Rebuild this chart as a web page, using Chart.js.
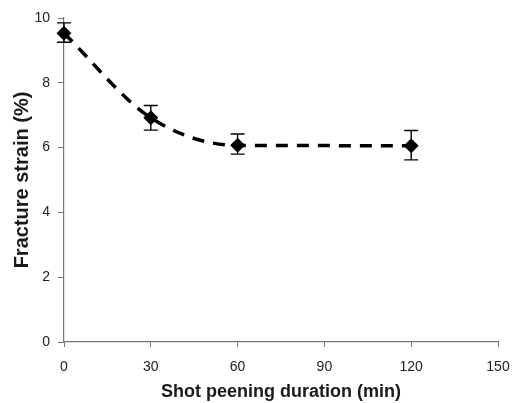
<!DOCTYPE html>
<html>
<head>
<meta charset="utf-8">
<script src="https://cdn.jsdelivr.net/npm/chart.js@4"></script>
<style>
    html, body { margin: 0; padding: 0; background: #fff; }
    #wrap { width: 518px; height: 403px; }
</style>
</head>
<body>
<div id="wrap"><canvas id="chart"></canvas></div>
<script>
// 数据
const durations = [0, 30, 60, 120];
const strain = [9.53, 6.92, 6.07, 6.06];
const errLow = [9.25, 6.54, 5.80, 5.62];
const errHigh = [9.85, 7.30, 6.42, 6.53];
const xTicks = [0, 30, 60, 90, 120, 150];
const yTicks = [0, 2, 4, 6, 8, 10];

// 误差线
const errorBars = {
    id: 'errorBars',
    afterDatasetsDraw(chart) {
        const ctx = chart.ctx;
        const xs = chart.scales.x;
        const ys = chart.scales.y;
        ctx.save();
        ctx.strokeStyle = '#000';
        ctx.lineWidth = 1.4;
        durations.forEach((d, i) => {
            const x = xs.getPixelForValue(d);
            const y1 = ys.getPixelForValue(errLow[i]);
            const y2 = ys.getPixelForValue(errHigh[i]);
            ctx.beginPath();
            ctx.moveTo(x, y1); ctx.lineTo(x, y2);
            ctx.moveTo(x - 7, y1); ctx.lineTo(x + 7, y1);
            ctx.moveTo(x - 7, y2); ctx.lineTo(x + 7, y2);
            ctx.stroke();
        });
        ctx.restore();
    }
};

const axisColor = '#777';

new Chart(document.getElementById('chart'), {
    type: 'line',
    data: {
        datasets: [{
            data: durations.map((d, i) => ({ x: d, y: strain[i] })),
            borderColor: '#000',
            backgroundColor: '#000',
            borderWidth: 3.5,
            borderDash: [12, 9],
            cubicInterpolationMode: 'monotone',
            clip: false,
            pointStyle: 'rectRot',
            pointRadius: 7.5,
            pointBackgroundColor: '#000',
            pointBorderWidth: 0
        }]
    },
    options: {
        responsive: true,
        maintainAspectRatio: false,
        animation: false,
        layout: { autoPadding: false, padding: { top: 18, right: 20, left: 0, bottom: 0 } },
        plugins: { legend: { display: false }, tooltip: { enabled: false } },
        scales: {
            x: {
                type: 'linear',
                min: 0, max: 150,
                afterBuildTicks: s => { s.ticks = xTicks.map(v => ({ value: v })); },
                afterFit: s => { s.height = 61; s.paddingLeft = 0; s.paddingRight = 0; },
                grid: { drawOnChartArea: false, tickLength: 5, color: axisColor },
                border: { color: axisColor, width: 1.2 },
                ticks: { color: '#222', padding: 12, font: { family: 'Liberation Sans', size: 14 } },
                title: {
                    display: true,
                    text: 'Shot peening duration (min)',
                    color: '#1a1a1a',
                    padding: { top: 0, bottom: 0 },
                    font: { family: 'Liberation Sans', size: 18, weight: 'bold' }
                }
            },
            y: {
                min: 0, max: 10,
                afterBuildTicks: s => { s.ticks = yTicks.map(v => ({ value: v })); },
                afterFit: s => { s.width = 64; s.paddingTop = 0; s.paddingBottom = 0; },
                grid: { drawOnChartArea: false, tickLength: 6, color: axisColor },
                border: { color: axisColor, width: 1.2 },
                ticks: { color: '#222', padding: 8, font: { family: 'Liberation Sans', size: 14 } },
                title: {
                    display: true,
                    text: 'Fracture strain (%)',
                    color: '#1a1a1a',
                    padding: { top: 10, bottom: 0 },
                    font: { family: 'Liberation Sans', size: 20, weight: 'bold' }
                }
            }
        }
    },
    plugins: [errorBars]
});
</script>
</body>
</html>
